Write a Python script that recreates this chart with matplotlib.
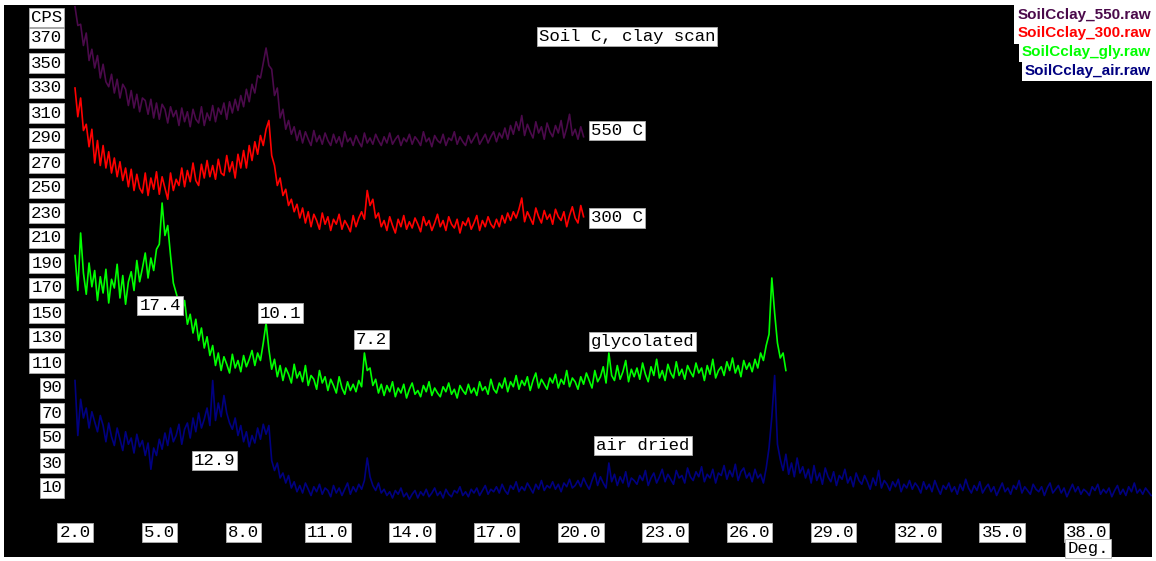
import numpy as np
import matplotlib.pyplot as plt

# XRD clay scan, Soil C: four treatments, counts
# (0.1 deg steps starting at 2.0 deg 2-theta)

start_deg = 2.0
step_deg = 0.1

cps_550 = [
    395, 380, 381, 364, 374, 352, 361, 346, 356, 338,
    349, 335, 331, 341, 326, 337, 322, 333, 329, 316,
    328, 314, 325, 311, 322, 320, 309, 321, 306, 318,
    305, 317, 313, 302, 315, 307, 312, 300, 314, 303,
    311, 299, 313, 305, 302, 315, 300, 310, 304, 316,
    303, 314, 309, 318, 305, 319, 310, 321, 312, 324,
    315, 329, 319, 333, 326, 340, 338, 350, 362, 348,
    345, 324, 330, 306, 313, 297, 304, 293, 299, 288,
    296, 286, 295, 289, 284, 296, 287, 292, 285, 294,
    288, 284, 293, 286, 291, 283, 295, 287, 290, 284,
    292, 287, 283, 294, 286, 290, 285, 293, 288, 284,
    291, 286, 294, 285, 289, 292, 284, 290, 287, 293,
    285, 291, 288, 284, 295, 287, 290, 283, 292, 288,
    286, 293, 284, 290, 288, 295, 285, 291, 287, 284,
    292, 286, 290, 294, 285, 289, 293, 286, 291, 295,
    287, 294, 290, 298, 289, 300, 293, 303, 296, 308,
    292, 301, 295, 290, 303, 294, 299, 289, 302, 295,
    291, 300, 294, 304, 290, 298, 309, 292, 297, 289,
    299, 291,
]

cps_300 = [
    330, 307, 322, 296, 301, 283, 297, 270, 288, 268,
    284, 266, 279, 262, 274, 259, 271, 256, 266, 251,
    265, 248, 261, 250, 246, 262, 244, 258, 249, 263,
    245, 259, 250, 241, 262, 248, 257, 252, 266, 251,
    264, 255, 270, 256, 252, 269, 258, 272, 259, 268,
    257, 273, 262, 260, 276, 263, 271, 258, 277, 266,
    280, 266, 284, 272, 287, 277, 292, 284, 297, 304,
    276, 268, 252, 258, 244, 249, 236, 241, 231, 237,
    226, 234, 222, 231, 219, 229, 224, 217, 230, 221,
    227, 216, 225, 221, 229, 217, 224, 220, 215, 228,
    219, 226, 231, 225, 248, 236, 241, 226, 230, 219,
    224, 216, 227, 220, 214, 225, 219, 228, 217, 223,
    218, 226, 221, 215, 227, 220, 224, 216, 222, 229,
    219, 224, 216, 227, 221, 218, 225, 214, 223, 220,
    226, 217, 222, 228, 216, 224, 219, 227, 221, 218,
    225, 219, 228, 222, 230, 224, 231, 226, 233, 242,
    223, 231, 226, 221, 234, 227, 222, 232, 225, 229,
    221, 233, 227, 224, 231, 219, 228, 235, 226, 222,
    236, 227,
]

cps_gly = [
    196, 168, 214, 182, 165, 190, 171, 184, 160, 179,
    166, 185, 158, 177, 170, 189, 162, 180, 157, 175,
    183, 168, 192, 175, 186, 198, 178, 194, 184, 201,
    205, 238, 212, 220, 196, 174, 166, 158, 150, 160,
    141, 149, 134, 145, 128, 138, 122, 131, 116, 124,
    108, 118, 104, 115, 109, 102, 117, 106, 112, 103,
    116, 107, 113, 120, 108, 118, 112, 126, 142, 121,
    105, 113, 99, 108, 96, 106, 101, 94, 109, 98,
    103, 95, 108, 92, 100, 97, 89, 104, 94, 99,
    88, 97, 92, 86, 99, 90, 85, 95, 88, 93,
    87, 96, 91, 118, 104, 106, 92, 97, 86, 93,
    84, 92, 87, 95, 83, 90, 86, 93, 82, 89,
    94, 85, 88, 83, 92, 87, 95, 84, 90, 86,
    83, 91, 87, 94, 85, 89, 82, 92, 88, 85,
    93, 86, 90, 84, 95, 88, 91, 85, 97, 89,
    86, 94, 90, 98, 87, 95, 91, 100, 89, 96,
    92, 99, 88, 96, 102, 90, 97, 93, 89, 98,
    94, 101, 90, 97, 93, 104, 91, 98, 95, 89,
    99, 93, 102, 96, 90, 104, 95, 99, 107, 94,
    118, 100, 96, 108, 97, 103, 112, 95, 105, 99,
    106, 97, 110, 101, 95, 107, 100, 113, 98, 104,
    96, 109, 102, 98, 111, 100, 105, 97, 108, 103,
    99, 110, 102, 106, 96, 108, 101, 113, 98, 104,
    107, 100, 111, 104, 114, 102, 108, 99, 112, 105,
    110, 103, 113, 106, 118, 112, 124, 133, 178, 150,
    126, 114, 118, 104,
]

cps_air = [
    96, 52, 81, 66, 74, 58, 71, 63, 55, 68,
    60, 47, 62, 51, 44, 58, 49, 40, 55, 45,
    50, 38, 53, 43, 48, 36, 46, 25, 42, 36,
    49, 41, 54, 44, 58, 47, 52, 61, 45, 57,
    62, 50, 66, 55, 70, 58, 65, 74, 60, 96,
    64, 78, 67, 84, 70, 62, 57, 66, 52, 60,
    47, 55, 43, 52, 46, 58, 49, 61, 53, 60,
    32, 24, 30, 18, 22, 14, 20, 10, 15, 7,
    12, 6, 14, 9, 4, 11, 7, 13, 5, 10,
    8, 3, 12, 6, 10, 4, 9, 14, 5, 11,
    7, 13, 9, 16, 34, 19, 12, 8, 14, 6,
    9, 4, 7, 2, 8, 5, 10, 3, 6, 1,
    5, 8, 2, 7, 4, 9, 3, 6, 10, 4,
    7, 2, 9, 5, 3, 8, 6, 11, 4, 7,
    3, 9, 6, 10, 4, 8, 12, 5, 9, 7,
    11, 6, 13, 8, 5, 12, 9, 15, 7, 11,
    8, 14, 10, 6, 13, 9, 16, 8, 12, 10,
    15, 9, 13, 7, 14, 11, 17, 10, 12, 16,
    11, 18, 13, 9, 16, 22, 12, 19, 14, 10,
    30, 15, 21, 12, 19, 14, 23, 11, 18, 16,
    13, 20, 16, 24, 12, 18, 22, 14, 19, 25,
    15, 21, 17, 13, 24, 18, 20, 14, 26, 19,
    16, 23, 19, 27, 15, 21, 18, 25, 14, 22,
    20, 28, 17, 24, 19, 29, 16, 23, 26, 18,
    22, 15, 25, 18, 21, 14, 26, 42, 67, 100,
    45, 33, 24, 37, 21, 30, 19, 34, 22, 27,
    18, 25, 14, 28, 16, 22, 13, 26, 19, 15,
    23, 12, 20, 17, 25, 14, 19, 11, 22, 16,
    13, 20, 15, 9, 18, 12, 24, 10, 16, 13,
    8, 15, 11, 17, 7, 13, 10, 16, 9, 14,
    11, 6, 15, 9, 13, 7, 16, 10, 5, 12,
    9, 14, 7, 11, 5, 13, 8, 17, 10, 6,
    12, 8, 15, 6, 10, 13, 7, 11, 4, 9,
    14, 7, 10, 5, 12, 9, 16, 6, 11, 8,
    5, 13, 9, 7, 11, 4, 10, 14, 6, 9,
    12, 6, 10, 3, 8, 13, 7, 11, 5, 9,
    7, 4, 11, 8, 13, 5, 9, 6, 10, 3,
    8, 12, 5, 9, 4, 11, 7, 14, 6, 9,
    5, 10, 7, 4,
]

series_files = ["SoilCclay_550.raw", "SoilCclay_300.raw",
                "SoilCclay_gly.raw", "SoilCclay_air.raw"]
series_colors = ["#4b0a4b", "#ff0000", "#00ff00", "#000080"]

x_ticks = [2.0, 5.0, 8.0, 11.0, 14.0, 17.0, 20.0, 23.0, 26.0, 29.0, 32.0, 35.0, 38.0]
y_ticks = [370, 350, 330, 310, 290, 270, 250, 230, 210, 190, 170, 150,
           130, 110, 90, 70, 50, 30, 10]

# trace labels and peak d-spacings (text, deg, cps)
trace_labels = [("550 C", 20.35, 296), ("300 C", 20.35, 226),
                ("glycolated", 20.35, 127), ("air dried", 20.55, 44)]
peak_labels = [("17.4", 5.03, 156), ("10.1", 9.31, 150),
               ("7.2", 12.55, 129), ("12.9", 6.96, 32)]

mono = "Liberation Mono"
box = dict(facecolor="white", edgecolor="#b0b0b0", linewidth=0.6,
           boxstyle="square,pad=0.12")

fig = plt.figure(figsize=(11.56, 5.61), dpi=100, facecolor="white")
ax = fig.add_axes([4 / 1156, 4 / 561, 1148 / 1156, 552 / 561])
ax.set_facecolor("black")
for s in ax.spines.values():
    s.set_visible(False)
ax.set_xticks([])
ax.set_yticks([])
ax.set_xlim(-0.527, 40.33)
ax.set_ylim(-45.2, 396.4)

for vals, col in zip([cps_550, cps_300, cps_gly, cps_air], series_colors):
    x = start_deg + step_deg * np.arange(len(vals))
    ax.plot(x, vals, color=col, lw=1.2, clip_on=True)

# axis labels drawn as boxed text in the plot area
for v in y_ticks:
    ax.text(1.55, v, str(v), ha="right", va="center", family=mono,
            fontsize=12.5, color="black", bbox=box)
ax.text(1.55, 386.5, "CPS", ha="right", va="center", family=mono,
        fontsize=12.5, color="black", bbox=box)
for t in x_ticks:
    ax.text(t, -25.5, "%.1f" % t, ha="center", va="center", family=mono,
            fontsize=12.5, color="black", bbox=box)
ax.text(x_ticks[-1] - 0.68, -38.5, "Deg.", ha="left", va="center", family=mono,
        fontsize=12.5, color="black", bbox=box)

ax.text(21.64, 371, "Soil C, clay scan", ha="center", va="center", family=mono,
        fontsize=12.5, color="black", bbox=box)
for txt, xd, yv in trace_labels:
    ax.text(xd, yv, txt, ha="left", va="center", family=mono,
            fontsize=12.5, color="black", bbox=box)
for txt, xd, yv in peak_labels:
    ax.text(xd, yv, txt, ha="center", va="center", family=mono,
            fontsize=12.5, color="black", bbox=box)

# file legend, top right
for i, (name, col) in enumerate(zip(series_files, series_colors)):
    fig.text(1151 / 1156, 1 - (15 + 18.5 * i) / 561, name, ha="right", va="center",
             family="Liberation Sans", weight="bold", fontsize=11, color=col,
             bbox=dict(facecolor="white", edgecolor="none", pad=2.2))

fig.savefig("out.png", dpi=100, facecolor="white")
